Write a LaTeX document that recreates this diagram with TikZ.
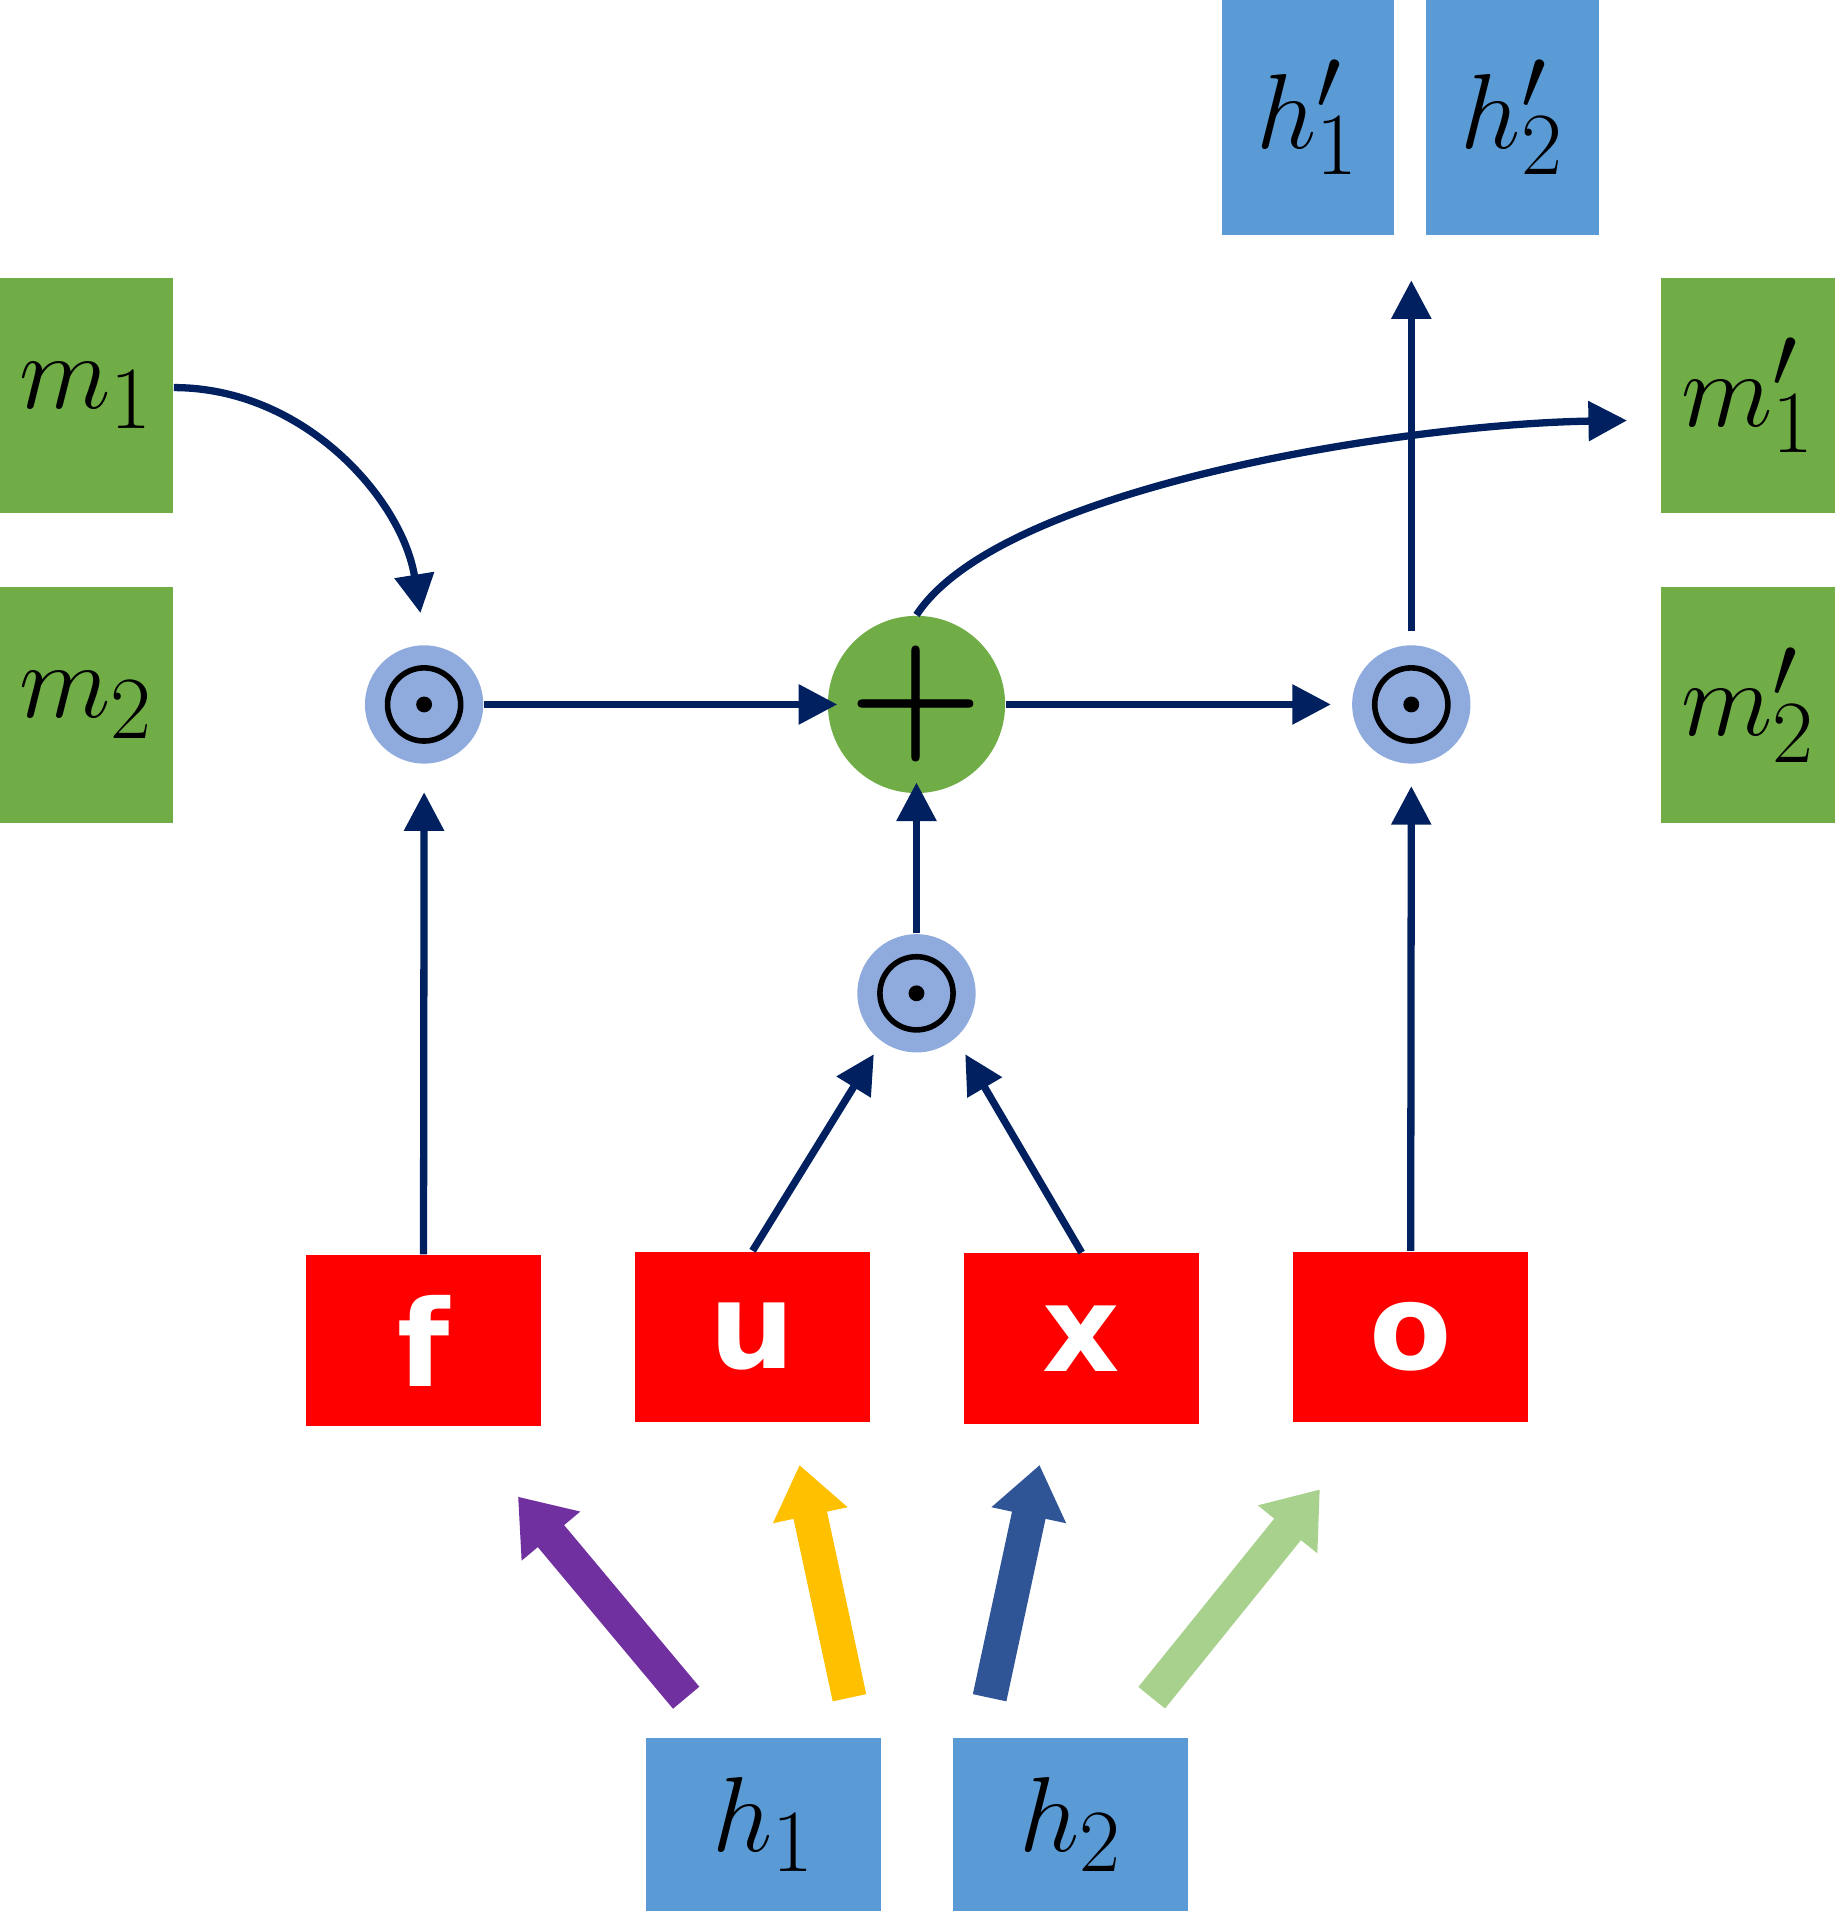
\documentclass[tikz,border=0pt]{standalone}
\usepackage{fontspec}
\newfontfamily\bsans{DejaVu Sans}
\usetikzlibrary{arrows.meta}
\definecolor{navy}{HTML}{002060}
\definecolor{hblue}{HTML}{5B9BD5}
\definecolor{mgreen}{HTML}{70AD47}
\definecolor{cblue}{HTML}{8FAADC}
\definecolor{fpurple}{HTML}{7030A0}
\definecolor{fyellow}{HTML}{FFC000}
\definecolor{fdblue}{HTML}{2F5597}
\definecolor{flgreen}{HTML}{A9D18E}
\begin{document}
\begin{tikzpicture}[x=0.01cm,y=-0.01cm,
 box/.style={draw=none,inner sep=0,minimum width=#1},
 hb/.style={fill=hblue,inner sep=0,minimum width=1.41cm,minimum height=1.93cm,font=\fontsize{30}{36}\selectfont},
 mb/.style={fill=mgreen,inner sep=0,minimum width=1.42cm,minimum height=1.93cm,font=\fontsize{30}{36}\selectfont},
 rb/.style={fill=red,inner sep=0,minimum width=1.93cm,minimum height=1.40cm,text=white,font=\bsans\bfseries\fontsize{28}{34}\selectfont},
 hin/.style={fill=hblue,inner sep=0,minimum width=1.93cm,minimum height=1.42cm,font=\fontsize{30}{36}\selectfont},
 od/.style={circle,fill=cblue,minimum size=0.97cm,inner sep=0},
 pl/.style={circle,fill=mgreen,minimum size=0.97cm,inner sep=0},
 con/.style={draw=navy,line width=1.7pt,-{Triangle[width=9pt,length=9pt]}},
 fat/.style={draw=#1,line width=8pt,-{Triangle[width=17pt,length=12pt]}}]
\useasboundingbox (0,0) rectangle (1506,1568);
\node[hb] (hp1) at (1073.5,96.5) {$h_1'$};
\node[hb,minimum width=1.42cm] (hp2) at (1241,96.5) {$h_2'$};
\node[mb] (m1) at (71,324.5) {$m_1$};
\node[mb] (m2) at (71,578.5) {$m_2$};
\node[mb,minimum width=1.43cm] (mp1) at (1434.5,324.5) {$m_1'$};
\node[mb,minimum width=1.43cm] (mp2) at (1434.5,578.5) {$m_2'$};
\newcommand{\odotsym}[1]{\draw[line width=1.3pt] (#1) circle (0.3cm); \fill (#1) circle (0.065cm);}
\node[od] (o1) at (348,578) {}; \odotsym{o1}
\node[pl] (pl) at (752,578) {\fontsize{36}{40}\selectfont\bfseries +};
\node[od] (o3) at (1158,578) {}; \odotsym{o3}
\node[od] (o2) at (752,815) {}; \odotsym{o2}
\node[rb] (f) at (347.5,1100) {f};
\node[rb] (u) at (617.5,1097) {u};
\node[rb] (x) at (887.5,1098.5) {x};
\node[rb] (o) at (1157.5,1097) {o};
\node[hin] (h1) at (626.5,1497) {$h_1$};
\node[hin] (h2) at (878.5,1497) {$h_2$};
% connectors
\draw[con] (m1.east |- 0,318) .. controls (250,318) and (330,410) .. (345,503);
\draw[con] (o1.east) -- (687,578);
\draw[con] (pl.east) -- (1092,578);
\draw[con] (1158,518) -- (1158,230);
\draw[con] (pl.north) .. controls (820,400) and (1150,348) .. (1335,345);
\draw[con] (f.north) -- (348,650);
\draw[con] (u.north) -- (717,865);
\draw[con] (x.north) -- (792,865);
\draw[con] (o2.north) -- (752,642);
\draw[con] (o.north) -- (1158,645);
% fat arrows
\coordinate (a1) at (563,1393); \coordinate (a2) at (697,1393);
\coordinate (a3) at (812,1393); \coordinate (a4) at (945,1393);
\draw[fat=fpurple] (a1) -- (425,1228);
\draw[fat=fyellow] (a2) -- (656,1202);
\draw[fat=fdblue] (a3) -- (853,1202);
\draw[fat=flgreen] (a4) -- (1083,1222);
\end{tikzpicture}
\end{document}
